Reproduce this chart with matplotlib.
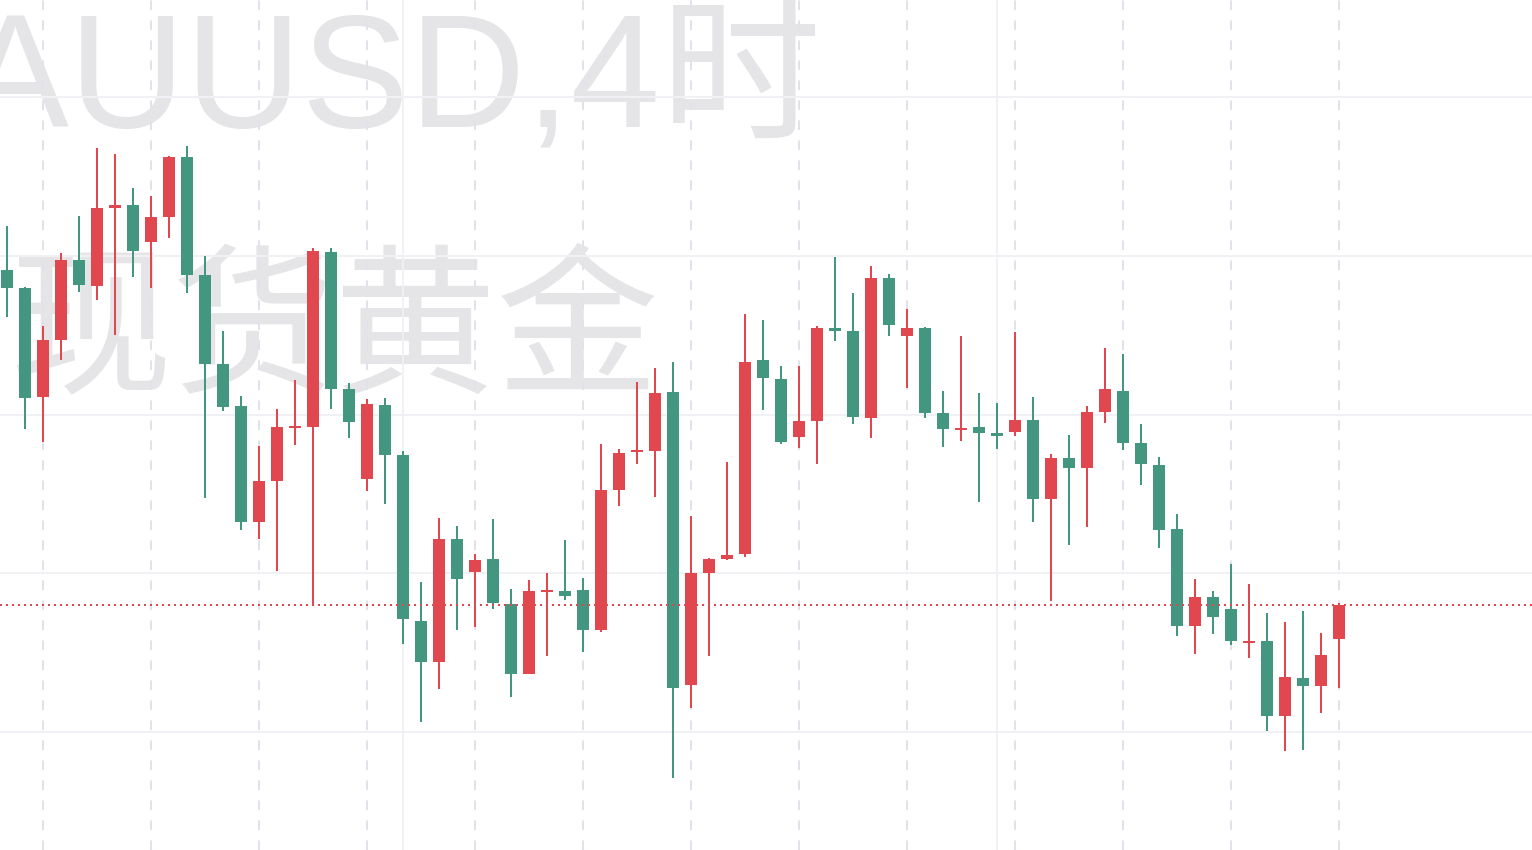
import matplotlib.pyplot as plt

# 4h candles, oldest first (red = up, green = down)
opens = [2329.11, 2327.97, 2321.11, 2324.70, 2329.74, 2328.12, 2333.03, 2333.20, 2330.87, 2332.45,
         2336.23, 2328.79, 2323.18, 2320.54, 2313.23, 2315.81, 2319.12, 2319.22, 2330.24, 2321.61,
         2315.94, 2320.60, 2317.45, 2306.99, 2304.41, 2312.16, 2310.08, 2310.90, 2308.06, 2303.65,
         2308.79, 2308.88, 2308.95, 2306.43, 2315.25, 2317.61, 2317.70, 2321.42, 2302.96, 2310.02,
         2310.90, 2311.21, 2323.44, 2322.24, 2318.59, 2319.62, 2325.45, 2325.26, 2319.80, 2328.60,
         2324.97, 2325.45, 2320.10, 2319.04, 2319.22, 2318.84, 2318.92, 2319.66, 2314.68, 2317.26,
         2316.63, 2320.16, 2321.48, 2318.21, 2316.82, 2312.79, 2306.68, 2308.51, 2307.75, 2305.63,
         2305.73, 2301.01, 2303.40, 2302.90, 2305.86]
highs = [2331.88, 2328.04, 2325.58, 2330.18, 2332.51, 2336.79, 2336.41, 2334.27, 2333.77, 2336.29,
         2336.92, 2329.99, 2325.26, 2321.17, 2318.02, 2320.35, 2322.18, 2330.49, 2330.49, 2321.99,
         2320.98, 2321.04, 2317.70, 2309.45, 2313.48, 2312.98, 2311.21, 2313.42, 2309.01, 2309.58,
         2310.02, 2312.10, 2309.70, 2318.14, 2317.83, 2322.05, 2322.93, 2323.31, 2313.61, 2310.96,
         2317.01, 2326.33, 2325.96, 2323.06, 2323.06, 2325.58, 2329.93, 2327.66, 2329.36, 2328.85,
         2326.65, 2325.52, 2321.48, 2324.95, 2321.36, 2320.73, 2325.20, 2321.11, 2317.51, 2318.71,
         2320.54, 2324.19, 2323.81, 2319.40, 2317.33, 2313.73, 2309.64, 2308.88, 2310.58, 2309.32,
         2307.50, 2306.93, 2307.62, 2306.24, 2308.13]
lows = [2326.15, 2319.09, 2318.27, 2323.44, 2327.72, 2327.22, 2325.01, 2328.67, 2327.97, 2331.12,
        2327.66, 2314.74, 2320.22, 2312.73, 2312.16, 2310.14, 2318.08, 2308.06, 2320.35, 2318.52,
        2315.18, 2314.36, 2305.54, 2300.63, 2302.71, 2306.43, 2306.62, 2307.75, 2302.21, 2303.65,
        2304.79, 2308.32, 2305.04, 2306.30, 2314.24, 2316.88, 2314.81, 2297.10, 2301.51, 2304.79,
        2310.84, 2311.03, 2320.29, 2318.14, 2317.92, 2316.88, 2324.63, 2319.40, 2318.52, 2324.95,
        2321.67, 2319.78, 2317.96, 2318.33, 2314.49, 2317.83, 2318.65, 2313.23, 2308.25, 2311.78,
        2312.92, 2319.47, 2317.77, 2315.56, 2311.59, 2306.05, 2304.91, 2306.17, 2305.48, 2304.66,
        2300.06, 2298.80, 2298.87, 2301.20, 2302.77]
closes = [2327.97, 2321.04, 2324.70, 2329.74, 2328.16, 2333.01, 2333.18, 2330.30, 2332.45, 2336.23,
          2328.79, 2323.18, 2320.48, 2313.23, 2315.81, 2319.22, 2319.22, 2330.30, 2321.61, 2319.53,
          2320.66, 2317.45, 2307.12, 2304.41, 2312.16, 2309.64, 2310.84, 2308.13, 2303.65, 2308.88,
          2308.88, 2308.57, 2306.43, 2315.25, 2317.58, 2317.70, 2321.36, 2302.77, 2309.99, 2310.87,
          2311.18, 2323.31, 2322.27, 2318.30, 2319.59, 2325.45, 2325.29, 2319.85, 2328.60, 2325.64,
          2325.45, 2320.10, 2319.09, 2319.15, 2318.84, 2318.67, 2319.66, 2314.68, 2317.26, 2316.63,
          2320.16, 2321.61, 2318.21, 2316.88, 2312.73, 2306.68, 2308.51, 2307.25, 2305.73, 2305.73,
          2301.01, 2303.47, 2302.90, 2304.85, 2308.00]

grid_prices = [2300, 2310, 2320, 2330, 2340]
day_marks = list(range(2, 75, 6))   # dashed separators
week_marks = [22, 55]               # solid separators
symbol_text = 'XAUUSD,4时'
name_text = '现货黄金'

UP = '#E0474F'
DOWN = '#43967F'

fig = plt.figure(figsize=(15.32, 8.5), dpi=100)
ax = fig.add_axes([0, 0, 1, 1])
ax.set_xlim(-7 / 18, (1532 - 7) / 18)
ax.set_ylim(2292.57, 2346.11)
ax.axis('off')

# watermark
wm = dict(color='#E5E5E8', transform=ax.transAxes, zorder=0)
ax.text(822 / 1532, 1 - 128 / 850, symbol_text, ha='right', va='baseline',
        fontsize=116, family=['Liberation Sans', 'Noto Sans CJK SC'], **wm)
ax.text(10 / 1532, 1 - 380 / 850, name_text, ha='left', va='baseline',
        fontsize=117, family=['Noto Sans CJK SC'], **wm)

# grid
for p in grid_prices:
    ax.axhline(p, color='#F0F1F4', lw=1.44, zorder=1)
for i in day_marks:
    ax.axvline(i, color='#E0E3EA', lw=1.44, linestyle=(0, (4.8, 5.2)), zorder=1)
for i in week_marks:
    ax.axvline(i, color='#F0F1F4', lw=1.3, zorder=1)

# candles
x = list(range(len(opens)))
colors = [UP if c >= o else DOWN for o, c in zip(opens, closes)]
ax.vlines(x, lows, highs, colors=colors, lw=1.44, zorder=2)
bottoms = [min(o, c) for o, c in zip(opens, closes)]
heights = [max(abs(c - o), 0.13) for o, c in zip(opens, closes)]
ax.bar(x, heights, bottom=bottoms, width=0.667, color=colors, linewidth=0, zorder=3)

# last price line
ax.axhline(closes[-1], color=UP, lw=1.44, linestyle=(0, (1, 2)), zorder=4)

plt.savefig('out.png', dpi=100, facecolor='white')
